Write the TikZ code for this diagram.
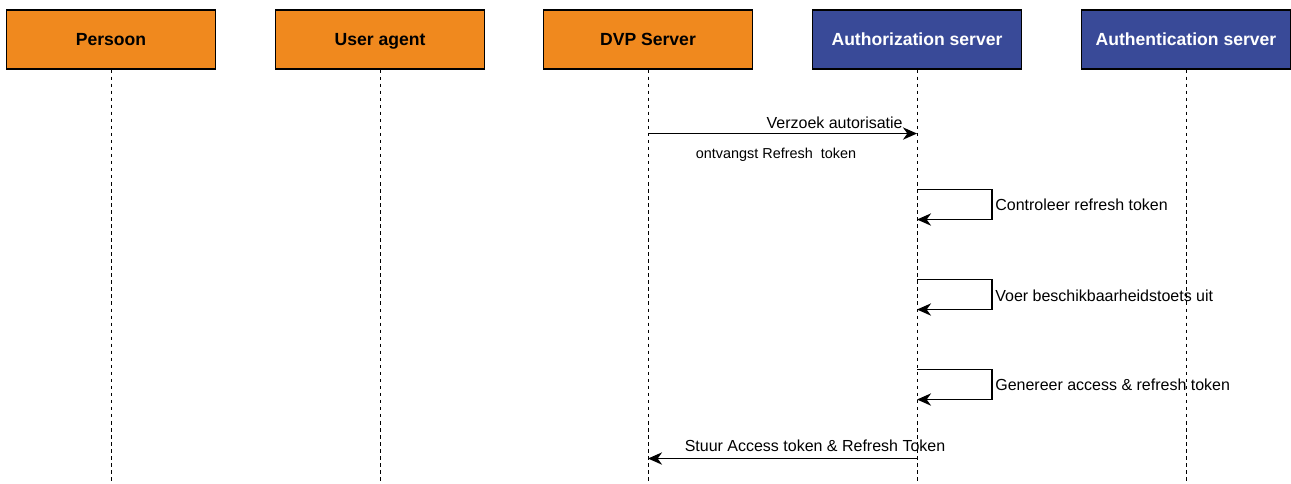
\documentclass[tikz,border=0pt]{standalone}
\usepackage{fontspec}
\setmainfont{Liberation Sans}
\usetikzlibrary{arrows.meta}

\definecolor{actororange}{RGB}{240,137,30}
\definecolor{actorblue}{RGB}{57,74,152}

\tikzset{
  actor/.style={rectangle, draw, line width=0.6pt, minimum height=1.18cm, minimum width=4.18cm, text height=7.2pt, text depth=0pt, font=\bfseries\fontsize{10}{12}\selectfont},
  lifeline/.style={line width=0.5pt, dash pattern=on 2pt off 2pt},
  msg/.style={line width=0.8pt, -{Stealth[length=8pt, width=7pt, inset=2.5pt]}},
  msgtxt/.style={inner sep=0pt, font=\fontsize{9.1}{11}\selectfont},
  smalltxt/.style={inner sep=0pt, font=\fontsize{8.2}{10}\selectfont}
}

\begin{document}
\begin{tikzpicture}

\useasboundingbox (0,0) rectangle (25.82,-9.66);

\draw (2.22,-0.79) node (persoon) [actor, fill=actororange] {Persoon};
\draw (7.60,-0.79) node (agent) [actor, fill=actororange] {User agent};
\draw (12.96,-0.79) node (dvp) [actor, fill=actororange] {DVP Server};
\draw (18.34,-0.79) node (authz) [actor, fill=actorblue, text=white] {Authorization server};
\draw (23.72,-0.79) node (authn) [actor, fill=actorblue, text=white] {Authentication server};

\coordinate (hlineb) at (0,-9.66);

\draw [lifeline] (persoon.south) -- (persoon.south |- hlineb);
\draw [lifeline] (agent.south) -- (agent.south |- hlineb);
\draw [lifeline] (dvp.south) -- (dvp.south |- hlineb);
\draw [lifeline] (authz.south) -- (authz.south |- hlineb);
\draw [lifeline] (authn.south) -- (authn.south |- hlineb);

% verzoek autorisatie
\path (dvp.south) -- +(0,-1.28) coordinate(req);
\draw [msg] (req) -- coordinate(a) (req -| authz.south);
\draw (req -| authz.south) node (reqtxt) [msgtxt, anchor=base east, xshift=-0.28cm, yshift=0.1cm] {Verzoek autorisatie};
\draw ([xshift=-0.13cm]a) node (rcvtxt) [smalltxt, below=0.28cm] {ontvangst Refresh\ \ token};

% controles op de autorisatieserver
\path (authz.south) -- +(0,-2.40) coordinate(chk);
\draw [msg] (chk) -- ++(1.5,0) -- ++(0,-0.6) -- ++(-1.5,0);
\draw (chk) ++(1.56,-0.30) node (chktxt) [msgtxt, anchor=west] {Controleer refresh token};

\path (authz.south) -- +(0,-4.20) coordinate(avail);
\draw [msg] (avail) -- ++(1.5,0) -- ++(0,-0.6) -- ++(-1.5,0);
\draw (avail) ++(1.56,-0.32) node (availtxt) [msgtxt, anchor=west] {Voer beschikbaarheidstoets uit};

\path (authz.south) -- +(0,-6.00) coordinate(gen);
\draw [msg] (gen) -- ++(1.5,0) -- ++(0,-0.6) -- ++(-1.5,0);
\draw (gen) ++(1.56,-0.30) node (gentxt) [msgtxt, anchor=west] {Genereer access \& refresh token};

% antwoord naar DVP
\path (authz.south) -- +(0,-7.78) coordinate(resp);
\draw [msg] (resp) -- coordinate(b) (resp -| dvp.south);
\draw ([xshift=0.65cm, yshift=0.14cm]b) node (resptxt) [msgtxt, anchor=base] {Stuur Access token \& Refresh Token};

\end{tikzpicture}
\end{document}
